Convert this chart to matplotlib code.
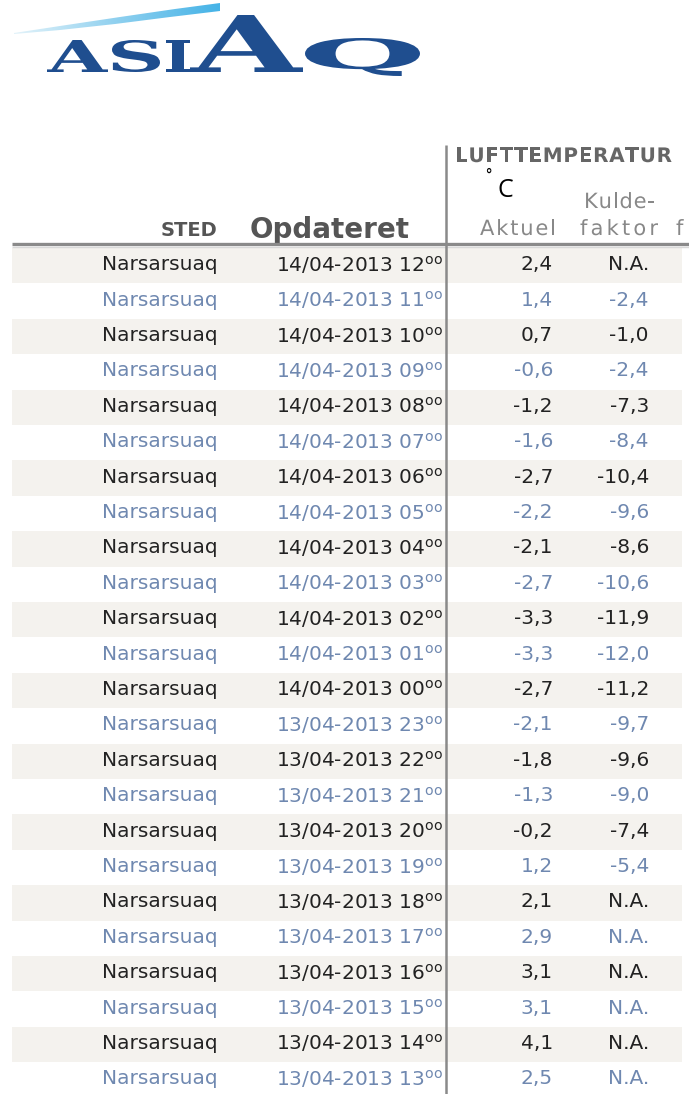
import numpy as np
import matplotlib
matplotlib.use('Agg')
import matplotlib.pyplot as plt
from matplotlib.textpath import TextPath
from matplotlib.patches import PathPatch, Polygon
from matplotlib.font_manager import FontProperties, findfont
from matplotlib.ft2font import FT2Font
from matplotlib.transforms import Affine2D

W, H = 689, 1094

# table data
station = 'Narsarsuaq'
dates = ['14/04-2013'] * 13 + ['13/04-2013'] * 11
hours = ['12', '11', '10', '09', '08', '07', '06', '05', '04', '03', '02', '01',
         '00', '23', '22', '21', '20', '19', '18', '17', '16', '15', '14', '13']
aktuel = [2.4, 1.4, 0.7, -0.6, -1.2, -1.6, -2.7, -2.2, -2.1, -2.7, -3.3, -3.3,
          -2.7, -2.1, -1.8, -1.3, -0.2, 1.2, 2.1, 2.9, 3.1, 3.1, 4.1, 2.5]
kuldefaktor = [None, -2.4, -1.0, -2.4, -7.3, -8.4, -10.4, -9.6, -8.6, -10.6, -11.9, -12.0,
               -11.2, -9.7, -9.6, -9.0, -7.4, -5.4, None, None, None, None, None, None]

# logo letters and their boxes (x0, x1, top, bottom) in pixels
logo_letters = ['A', 'S', 'I', 'A', 'Q']
logo_boxes = [(47, 108, 40, 72), (112, 160, 40, 72), (166, 190, 40, 72),
              (190, 303, 15, 72), (305, 420, 38, 76)]

DARK = '#222222'
BLUE = '#6f88b0'
BAND = '#f4f2ee'
LINE = '#8a8a8a'
LOGO = '#1f4e8f'


def fmt(v):
    if v is None:
        return 'N.A.'
    return f'{v:.1f}'.replace('.', ',')


def draw_glyph(ax, ch, box):
    x0, x1, top, bottom = box
    tp = TextPath((0, 0), ch, size=1, prop=FontProperties(family='DejaVu Serif', weight='bold'))
    ext = tp.get_extents()
    tr = (Affine2D().translate(-ext.x0, -ext.y0)
          .scale((x1 - x0) / ext.width, -(bottom - top) / ext.height)
          .translate(x0, bottom))
    ax.add_patch(PathPatch(tr.transform_path(tp), fc=LOGO, ec='none'))


def tracked(ax, x0, x1, base, s, size, color, weight='normal'):
    # letter-spaced header word, filling x0..x1, baseline at base (pixels)
    prop = FontProperties(family='DejaVu Sans', weight=weight)
    font = FT2Font(findfont(prop))
    font.set_size(size, 72)
    adv = [font.load_char(ord(c)).linearHoriAdvance / 65536 for c in s]
    track = max(((x1 - x0) - sum(adv)) / max(len(s) - 1, 1), 0)
    x = x0
    for c, a in zip(s, adv):
        tp = TextPath((0, 0), c, size=size, prop=prop)
        tr = Affine2D().scale(1, -1).translate(x, base)
        ax.add_patch(PathPatch(tr.transform_path(tp), fc=color, ec='none', lw=0))
        x += a + track


fig = plt.figure(figsize=(W / 100, H / 100), dpi=100)
ax = fig.add_axes([0, 0, 1, 1])

# swoosh with gradient
swoosh = Polygon([(14, 33), (60, 26), (120, 17), (175, 9), (220, 3),
                  (220, 11), (170, 17), (115, 24), (60, 30), (14, 34)],
                 closed=True, fc='none', ec='none')
ax.add_patch(swoosh)
grad = np.linspace(0, 1, 256).reshape(1, -1)
cmap = matplotlib.colors.LinearSegmentedColormap.from_list('sw', ['#e3f3fa', '#8fd0ef', '#45b3e7'])
im = ax.imshow(grad, extent=(14, 220, 35, 2), cmap=cmap, aspect='auto', zorder=1)
im.set_clip_path(swoosh)
ax.set_xlim(0, W)
ax.set_ylim(H, 0)
ax.axis('off')

for ch, box in zip(logo_letters, logo_boxes):
    draw_glyph(ax, ch, box)

# header
ax.text(217, 236, 'STED', fontsize=14, weight='bold', color='#555555', ha='right', va='baseline')
ax.text(250, 238, 'Opdateret', fontsize=20, weight='bold', color='#555555', ha='left', va='baseline')
tracked(ax, 455, 672, 162, 'LUFTTEMPERATUR', 20, '#666666', weight='bold')
ax.text(488, 184, '˚', fontsize=12, color='black', ha='center', va='baseline')
ax.text(505, 197, 'C', fontsize=18, color='black', ha='center', va='baseline', family='Open Sans')
tracked(ax, 480, 556, 235, 'Aktuel', 21, '#888888')
tracked(ax, 584, 655, 208, 'Kulde-', 21, '#888888')
tracked(ax, 580, 658, 235, 'faktor', 21, '#888888')
tracked(ax, 676, 690, 235, 'f', 21, '#888888')

ax.plot([12, W], [244, 244], color=LINE, lw=2.4, solid_capstyle='butt', zorder=3)
ax.plot([12, W], [247, 247], color='#d8d8d8', lw=1, solid_capstyle='butt', zorder=3)
ax.plot([446, 446], [145, H], color=LINE, lw=1.8, solid_capstyle='butt', zorder=3)

# rows
y0, dy = 248, 35.4
for i, (d, h, a, k) in enumerate(zip(dates, hours, aktuel, kuldefaktor)):
    top = y0 + i * dy
    yc = top + dy / 2 - 1
    col = DARK if i % 2 == 0 else BLUE
    if i % 2 == 0:
        ax.fill_between([12, 682], top, top + dy, color=BAND, lw=0, zorder=0)
    ax.text(218, yc, station, fontsize=14.5, color=col, ha='right', va='center')
    ax.text(443, yc, f'{d} {h}' + r'$^{\mathrm{oo}}$', fontsize=14.5, color=col,
            ha='right', va='center')
    ax.text(553, yc, fmt(a), fontsize=14.5, color=col, ha='right', va='center')
    ax.text(649, yc, fmt(k), fontsize=14.5, color=col, ha='right', va='center')

fig.savefig('out.png', dpi=100)
